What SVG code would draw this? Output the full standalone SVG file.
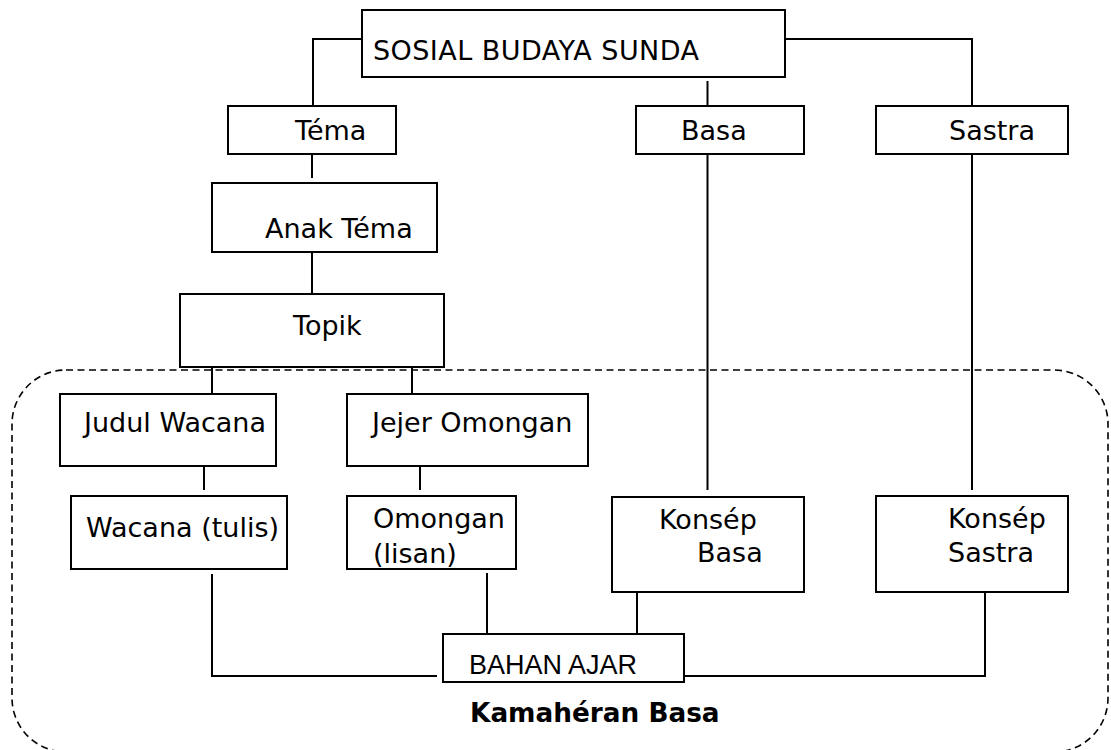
<svg xmlns="http://www.w3.org/2000/svg" width="1111" height="750" viewBox="0 0 1111 750">
<style>
.box{fill:#fff;stroke:#000;stroke-width:2}
.t{font-family:"DejaVu Sans","Verdana",sans-serif;font-size:27px;fill:#000}
.n{font-family:"Liberation Sans",Arial,sans-serif;font-size:27px;fill:#000}
.b{font-family:"DejaVu Sans","Verdana",sans-serif;font-size:26.3px;font-weight:bold;fill:#000}
.c{fill:none;stroke:#000;stroke-width:2}
.d{fill:none;stroke:#000;stroke-width:1.6;stroke-dasharray:7 4.5}
</style>
<rect width="1111" height="750" fill="#fff"/>
<g id="group-kamaheran">
<rect class="d" x="12" y="370" width="1096" height="382" rx="54" ry="54"/>
<text class="b" x="470" y="722">Kamahéran Basa</text>
</g>
<g id="connectors">
<path class="c" d="M362,39 H313 V110"/>
<path class="c" d="M785,39 H972 V110"/>
<path class="c" d="M707.5,81 V106"/>
<path class="c" d="M312,154 V178"/>
<path class="c" d="M312,252 V299"/>
<path class="c" d="M212,367 V403"/>
<path class="c" d="M412,367 V404"/>
<path class="c" d="M204,466 V490"/>
<path class="c" d="M420,466 V490"/>
<path class="c" d="M707.5,154 V490"/>
<path class="c" d="M972,154 V490"/>
<path class="c" d="M212,574 V676 H437"/>
<path class="c" d="M487,573 V642"/>
<path class="c" d="M637,592 V642"/>
<path class="c" d="M685,676 H985 V592"/>
</g>
<g id="node-sosial">
<rect class="box" x="362" y="10" width="423" height="67"/>
<text class="t" x="373" y="60" textLength="326" lengthAdjust="spacing">SOSIAL BUDAYA SUNDA</text>
</g>
<g id="node-tema">
<rect class="box" x="228" y="106" width="168" height="48"/>
<text class="t" x="295" y="140">Téma</text>
</g>
<g id="node-basa">
<rect class="box" x="636" y="106" width="168" height="48"/>
<text class="t" x="681" y="140">Basa</text>
</g>
<g id="node-sastra">
<rect class="box" x="876" y="106" width="192" height="48"/>
<text class="t" x="949" y="140">Sastra</text>
</g>
<g id="node-anak-tema">
<rect class="box" x="212" y="183" width="225" height="69"/>
<text class="t" x="265" y="238">Anak Téma</text>
</g>
<g id="node-topik">
<rect class="box" x="180" y="294" width="264" height="73"/>
<text class="t" x="293" y="335">Topik</text>
</g>
<g id="node-judul-wacana">
<rect class="box" x="60" y="394" width="216" height="72"/>
<text class="t" x="84" y="432">Judul Wacana</text>
</g>
<g id="node-jejer-omongan">
<rect class="box" x="347" y="394" width="241" height="72"/>
<text class="t" x="372" y="432">Jejer Omongan</text>
</g>
<g id="node-wacana-tulis">
<rect class="box" x="71" y="496" width="216" height="73"/>
<text class="t" x="86" y="537">Wacana (tulis)</text>
</g>
<g id="node-omongan-lisan">
<rect class="box" x="347" y="496" width="169" height="73"/>
<text class="t" x="373" y="528">Omongan</text>
<text class="t" x="373" y="563">(lisan)</text>
</g>
<g id="node-konsep-basa">
<rect class="box" x="612" y="497" width="192" height="95"/>
<text class="t" x="659" y="529">Konsép</text>
<text class="t" x="697" y="562">Basa</text>
</g>
<g id="node-konsep-sastra">
<rect class="box" x="876" y="496" width="192" height="96"/>
<text class="t" x="948" y="528">Konsép</text>
<text class="t" x="948" y="562">Sastra</text>
</g>
<g id="node-bahan-ajar">
<rect class="box" x="443" y="634" width="241" height="48"/>
<text class="n" x="469" y="674">BAHAN AJAR</text>
</g>
</svg>
